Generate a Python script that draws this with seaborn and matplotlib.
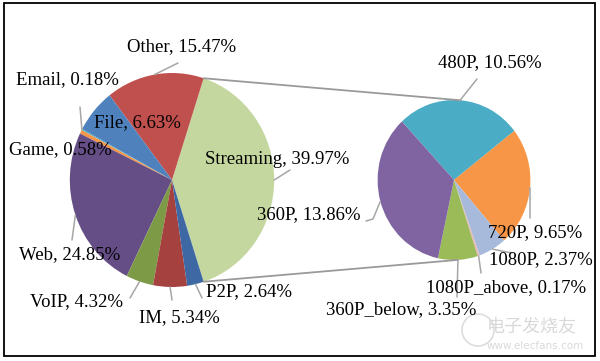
import numpy as np
import matplotlib
matplotlib.use("Agg")
import matplotlib.pyplot as plt
import seaborn as sns
from matplotlib.patches import Rectangle, Ellipse

# Traffic share (%) - main pie
main_labels = ["Streaming", "Other", "File", "Email", "Game", "Web", "VoIP", "IM", "P2P"]
main_values = [39.97, 15.47, 6.63, 0.18, 0.58, 24.85, 4.32, 5.34, 2.64]

# Streaming split by resolution (%) - second pie
sub_labels = ["480P", "720P", "1080P", "1080P_above", "360P_below", "360P"]
sub_values = [10.56, 9.65, 2.37, 0.17, 3.35, 13.86]

main_colors = ["#C4D79F", "#C0504D", "#4F81BD", "#4BACC6", "#F79646",
               "#654E85", "#7D9A47", "#A5413F", "#3D68A3"]
sub_colors = ["#4BACC6", "#F79646", "#A8BADC", "#E6B9B8", "#9BBB59", "#8064A2"]

sns.set_theme(style="white")
plt.rcParams["font.family"] = ["Liberation Serif", "DejaVu Serif"]

W, H = 600, 361
SX = 0.955  # picture is slightly squeezed sideways


def px(x, y):
    # pixel position (from top left) -> data coords
    return x / SX, H - y


fig = plt.figure(figsize=(6, 3.61), dpi=100)
ax = fig.add_axes([0, 0, 1, 1])

c1, r1 = px(172, 180), 107
c2, r2 = px(454, 180), 80

tot = sum(main_values)
main_wedges, _ = ax.pie(main_values, colors=main_colors, center=c1, radius=r1,
                        startangle=-main_values[0] / tot * 180, frame=True,
                        wedgeprops=dict(linewidth=0))
sub_wedges, _ = ax.pie(sub_values, colors=sub_colors, center=c2, radius=r2,
                       startangle=133, counterclock=False, frame=True,
                       wedgeprops=dict(linewidth=0))

ax.set_aspect("auto")
ax.set_xlim(0, W / SX)
ax.set_ylim(0, H)
ax.axis("off")


def on_rim(center, r, ang):
    a = np.deg2rad(ang)
    return center[0] + r * np.cos(a), center[1] + r * np.sin(a)


def mid_edge(w):
    return on_rim(w.center, w.r, (w.theta1 + w.theta2) / 2)


# lines joining the streaming slice with the second pie
stream = main_wedges[0]
for a1, a2 in [(stream.theta2, 85), (stream.theta1, -87)]:
    p1 = on_rim(stream.center, stream.r, a1)
    p2 = on_rim(c2, r2, a2)
    ax.plot([p1[0], p2[0]], [p1[1], p2[1]], color="#9a9a9a", lw=1.3, zorder=1)

# label centres and leader-line ends, in pixels
main_pos = {"Streaming": (277, 160), "Other": (182, 47), "File": (137, 123),
            "Email": (67, 80), "Game": (60, 150), "Web": (70, 255),
            "VoIP": (76, 302), "IM": (179, 318), "P2P": (249, 292)}
main_lead = {"Streaming": [(290, 170)], "Other": [(178, 63)], "Email": [(80, 107)],
             "Web": [(72, 240)], "VoIP": [(130, 298)], "IM": [(172, 300)],
             "P2P": [(202, 298)]}
sub_pos = {"480P": (490, 63), "720P": (535, 233), "1080P": (541, 260),
           "1080P_above": (506, 288), "360P_below": (401, 310), "360P": (309, 215)}
sub_lead = {"480P": [(477, 79)], "720P": [(530, 218)], "1080P": [(512, 253)],
            "1080P_above": [(481, 273)], "360P_below": [(457, 297)],
            "360P": [(373, 219), (366, 221)]}

for wedges, labels, values, pos, lead in [
        (main_wedges, main_labels, main_values, main_pos, main_lead),
        (sub_wedges, sub_labels, sub_values, sub_pos, sub_lead)]:
    for w, lab, val in zip(wedges, labels, values):
        if lab in lead:
            pts = [mid_edge(w)] + [px(*p) for p in lead[lab]]
            xs, ys = zip(*pts)
            ax.plot(xs, ys, color="#a6a6a6", lw=1.1, zorder=3)
        ax.text(*px(*pos[lab]), f"{lab}, {val:.2f}%", ha="center", va="center",
                fontsize=13.5, color="black", zorder=4)

# faint watermark
ax.add_patch(Ellipse(px(478, 330), 32 / SX, 32, fill=False, ec="#dddddd", lw=1.2))
ax.text(*px(532, 326), "电子发烧友", fontsize=13, color="#d9d9d9", ha="center",
        va="center", family=["Noto Sans CJK SC", "DejaVu Sans"], style="italic")
ax.text(*px(535, 346), "www.elecfans.com", fontsize=7.5, color="#d9d9d9",
        ha="center", va="center", family=["DejaVu Sans"])

# outer frame
ax.add_patch(Rectangle(px(4, 356), 591 / SX, 353, fill=False, ec="black", lw=1.3,
                       zorder=5))

fig.savefig("out.png", dpi=100)
